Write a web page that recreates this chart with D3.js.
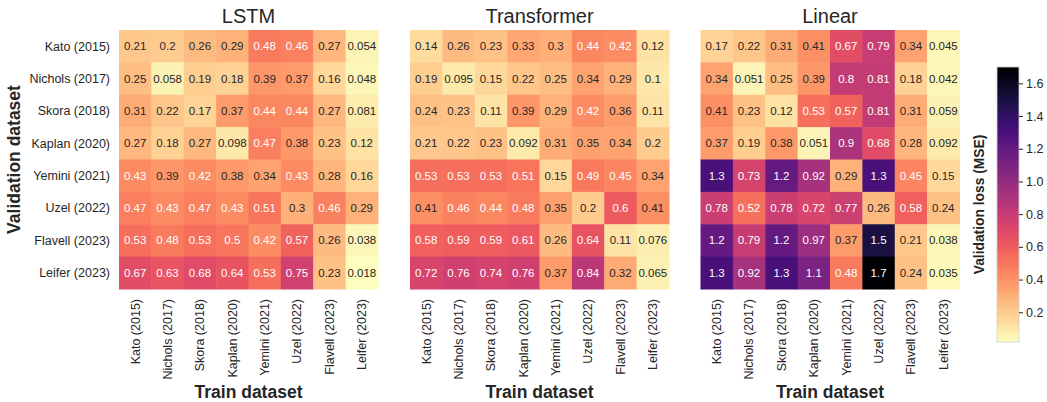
<!DOCTYPE html>
<html>
<head>
<meta charset="utf-8">
<script src="https://cdn.jsdelivr.net/npm/d3@7"></script>
<style>
  body { margin: 0; background: #fff; }
  text { font-family: "Liberation Sans", Arial, sans-serif; fill: #262626; }
</style>
</head>
<body>
<div id="chart"></div>
<script>
const datasets = ["Kato (2015)", "Nichols (2017)", "Skora (2018)", "Kaplan (2020)",
                  "Yemini (2021)", "Uzel (2022)", "Flavell (2023)", "Leifer (2023)"];
const models = ["LSTM", "Transformer", "Linear"];

// rows = validation dataset, columns = train dataset
const lstm_loss = [
  [0.21, 0.2, 0.26, 0.29, 0.48, 0.46, 0.27, 0.054],
  [0.25, 0.058, 0.19, 0.18, 0.39, 0.37, 0.16, 0.048],
  [0.31, 0.22, 0.17, 0.37, 0.44, 0.44, 0.27, 0.081],
  [0.27, 0.18, 0.27, 0.098, 0.47, 0.38, 0.23, 0.12],
  [0.43, 0.39, 0.42, 0.38, 0.34, 0.43, 0.28, 0.16],
  [0.47, 0.43, 0.47, 0.43, 0.51, 0.3, 0.46, 0.29],
  [0.53, 0.48, 0.53, 0.5, 0.42, 0.57, 0.26, 0.038],
  [0.67, 0.63, 0.68, 0.64, 0.53, 0.75, 0.23, 0.018]
];
const transformer_loss = [
  [0.14, 0.26, 0.23, 0.33, 0.3, 0.44, 0.42, 0.12],
  [0.19, 0.095, 0.15, 0.22, 0.25, 0.34, 0.29, 0.1],
  [0.24, 0.23, 0.11, 0.39, 0.29, 0.42, 0.36, 0.11],
  [0.21, 0.22, 0.23, 0.092, 0.31, 0.35, 0.34, 0.2],
  [0.53, 0.53, 0.53, 0.51, 0.15, 0.49, 0.45, 0.34],
  [0.41, 0.46, 0.44, 0.48, 0.35, 0.2, 0.6, 0.41],
  [0.58, 0.59, 0.59, 0.61, 0.26, 0.64, 0.11, 0.076],
  [0.72, 0.76, 0.74, 0.76, 0.37, 0.84, 0.32, 0.065]
];
const linear_loss = [
  [0.17, 0.22, 0.31, 0.41, 0.67, 0.79, 0.34, 0.045],
  [0.34, 0.051, 0.25, 0.39, 0.8, 0.81, 0.18, 0.042],
  [0.41, 0.23, 0.12, 0.53, 0.57, 0.81, 0.31, 0.059],
  [0.37, 0.19, 0.38, 0.051, 0.9, 0.68, 0.28, 0.092],
  [1.3, 0.73, 1.2, 0.92, 0.29, 1.3, 0.45, 0.15],
  [0.78, 0.52, 0.78, 0.72, 0.77, 0.26, 0.58, 0.24],
  [1.2, 0.79, 1.2, 0.97, 0.37, 1.5, 0.21, 0.038],
  [1.3, 0.92, 1.3, 1.1, 0.48, 1.7, 0.24, 0.035]
];
const cbar_ticks = [0.2, 0.4, 0.6, 0.8, 1.0, 1.2, 1.4, 1.6];

const all_loss = [lstm_loss, transformer_loss, linear_loss];

const width = 1047, height = 402;
const svg = d3.select("#chart").append("svg")
  .attr("width", width)
  .attr("height", height);

const vmin = d3.min(all_loss.flat(2));
const vmax = d3.max(all_loss.flat(2));
const color = v => d3.interpolateMagma(1 - (v - vmin) / (vmax - vmin));

// seaborn-like text colour choice
function lum(c) {
  const rgb = d3.rgb(c);
  const f = x => { x /= 255; return x <= 0.03928 ? x / 12.92 : Math.pow((x + 0.055) / 1.055, 2.4); };
  return 0.2126 * f(rgb.r) + 0.7152 * f(rgb.g) + 0.0722 * f(rgb.b);
}
const fmt = d3.format(".2~g");

const map_left = [119, 410, 700.5];
const map_top = 30, map_size = 259;

all_loss.forEach((grid, m) => {
  const x = d3.scaleBand().domain(datasets).range([map_left[m], map_left[m] + map_size]);
  const y = d3.scaleBand().domain(datasets).range([map_top, map_top + map_size]);
  const g = svg.append("g");

  const cells = [];
  grid.forEach((row, i) => row.forEach((v, j) => cells.push({ val: datasets[i], tr: datasets[j], v: v })));

  g.selectAll("rect").data(cells).enter().append("rect")
    .attr("x", d => x(d.tr))
    .attr("y", d => y(d.val))
    .attr("width", x.bandwidth() + 0.5)
    .attr("height", y.bandwidth() + 0.5)
    .attr("fill", d => color(d.v));

  g.selectAll("text.annot").data(cells).enter().append("text")
    .attr("class", "annot")
    .attr("x", d => x(d.tr) + x.bandwidth() / 2)
    .attr("y", d => y(d.val) + y.bandwidth() / 2)
    .attr("dy", "0.35em")
    .attr("text-anchor", "middle")
    .style("font-size", "11.5px")
    .style("fill", d => lum(color(d.v)) > 0.408 ? "#262626" : "#ffffff")
    .text(d => fmt(d.v));

  // title
  g.append("text")
    .attr("x", map_left[m] + map_size / 2)
    .attr("y", 23)
    .attr("text-anchor", "middle")
    .style("font-size", "20px")
    .text(models[m]);

  // x tick labels
  g.selectAll("text.xt").data(datasets).enter().append("text")
    .attr("class", "xt")
    .attr("transform", d => `translate(${x(d) + x.bandwidth() / 2},299) rotate(-90)`)
    .attr("dy", "0.35em")
    .attr("text-anchor", "end")
    .style("font-size", "12.5px")
    .text(d => d);

  g.append("text")
    .attr("x", map_left[m] + map_size / 2)
    .attr("y", 398)
    .attr("text-anchor", "middle")
    .style("font-size", "17.5px")
    .style("font-weight", "bold")
    .text("Train dataset");

  if (m === 0) {
    g.selectAll("text.yt").data(datasets).enter().append("text")
      .attr("class", "yt")
      .attr("x", 110)
      .attr("y", d => y(d) + y.bandwidth() / 2)
      .attr("dy", "0.35em")
      .attr("text-anchor", "end")
      .style("font-size", "12.5px")
      .text(d => d);

    g.append("text")
      .attr("transform", `translate(20,${map_top + map_size / 2}) rotate(-90)`)
      .attr("text-anchor", "middle")
      .style("font-size", "17.5px")
      .style("font-weight", "bold")
      .text("Validation dataset");
  }
});

// colorbar
const cb_x = 997, cb_w = 22, cb_top = 67, cb_bottom = 342;
const cb_y = d3.scaleLinear().domain([vmin, vmax]).range([cb_bottom, cb_top]);

const grad = svg.append("defs").append("linearGradient")
  .attr("id", "cbar")
  .attr("x1", 0).attr("y1", 1).attr("x2", 0).attr("y2", 0);
d3.range(0, 1.0001, 0.02).forEach(t => {
  grad.append("stop")
    .attr("offset", t)
    .attr("stop-color", color(vmin + t * (vmax - vmin)));
});

svg.append("rect")
  .attr("x", cb_x).attr("y", cb_top)
  .attr("width", cb_w).attr("height", cb_bottom - cb_top)
  .attr("fill", "url(#cbar)")
  .attr("stroke", "#d0d0d0")
  .attr("stroke-width", 0.8);

const cb_axis = svg.append("g")
  .attr("transform", `translate(${cb_x + cb_w},0)`)
  .call(d3.axisRight(cb_y).tickValues(cbar_ticks).tickFormat(d3.format(".1f")).tickSize(4).tickPadding(3));
cb_axis.select(".domain").remove();
cb_axis.selectAll("line").attr("stroke", "#262626");
cb_axis.selectAll("text")
  .style("font-family", "'Liberation Sans', Arial, sans-serif")
  .style("font-size", "12.5px")
  .style("fill", "#262626");

svg.append("text")
  .attr("transform", `translate(984,${(cb_top + cb_bottom) / 2}) rotate(-90)`)
  .attr("text-anchor", "middle")
  .style("font-size", "13.8px")
  .style("font-weight", "bold")
  .text("Validation loss (MSE)");
</script>
</body>
</html>
